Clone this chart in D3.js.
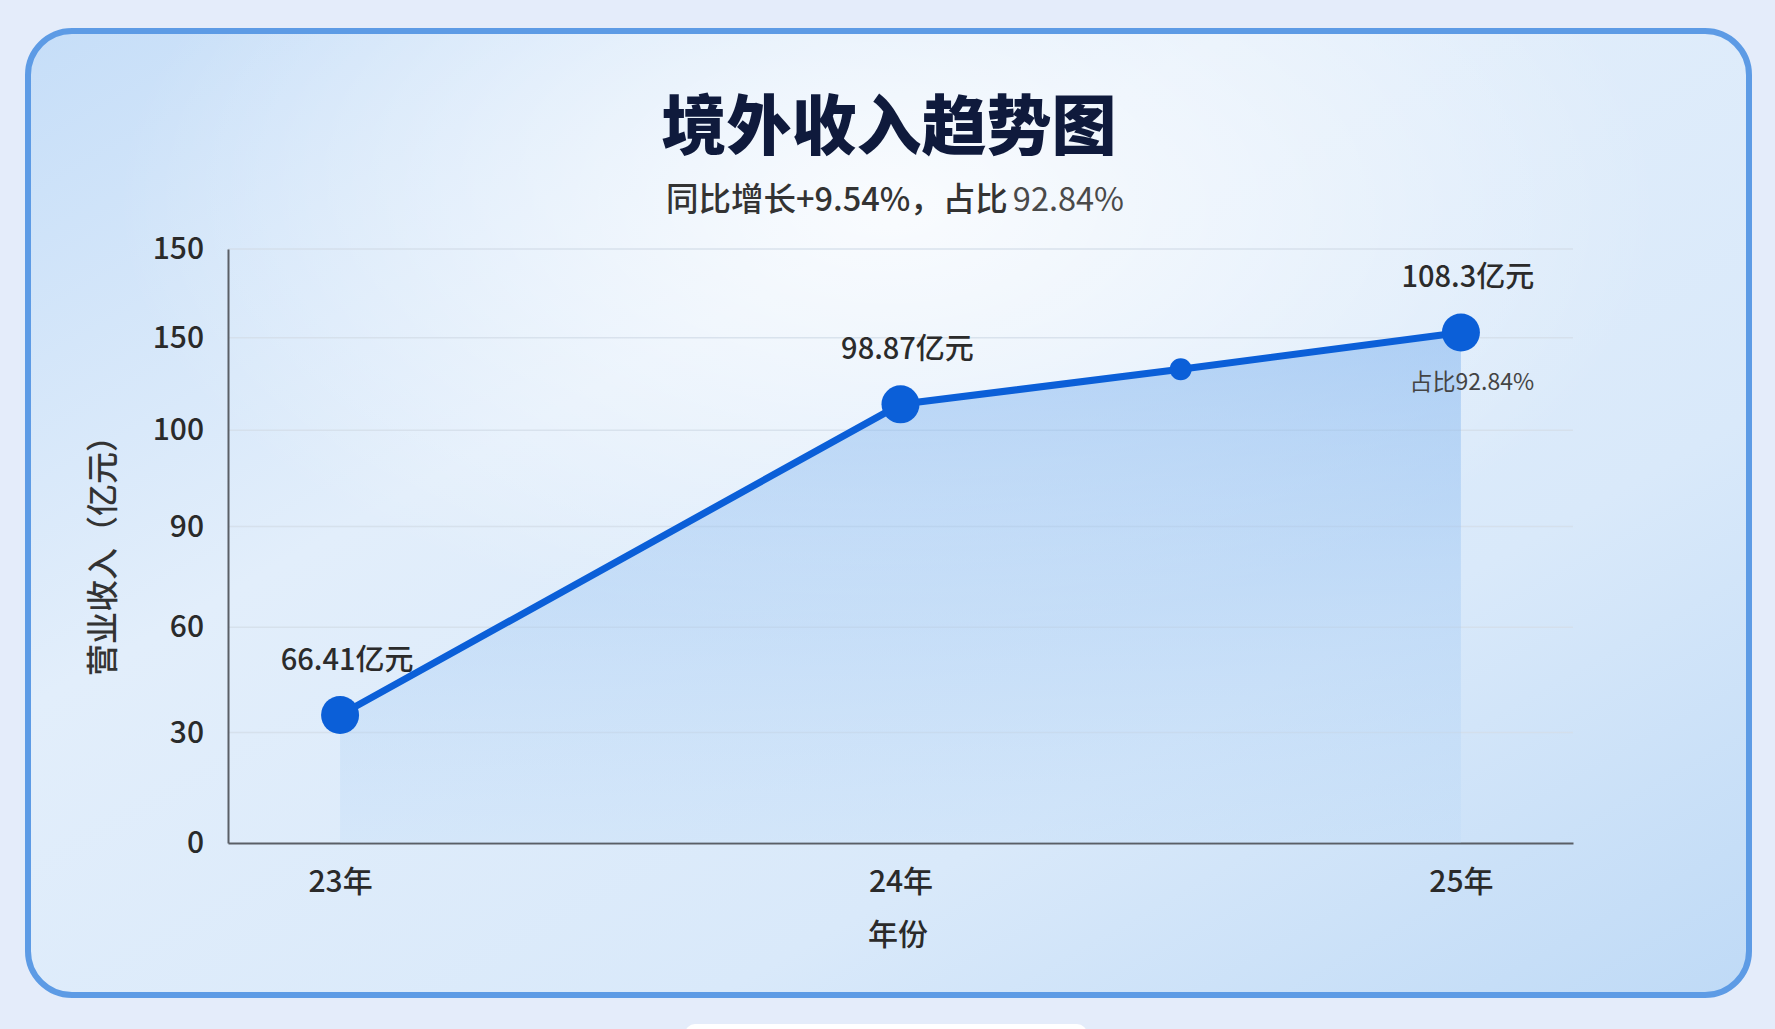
<!DOCTYPE html>
<html>
<head>
<meta charset="utf-8">
<script src="https://cdn.jsdelivr.net/npm/d3@7"></script>
<style>
  html, body { margin: 0; padding: 0; background: #e4ecfa; }
  svg { display: block; font-family: "Noto Sans CJK SC", "Noto Sans", sans-serif; }
</style>
</head>
<body>
<div id="chart"></div>
<script>
// data
const years = ["23年", "24年", "25年"];
const yearPos = [23, 24, 25];
const pointX = [23, 24, 24.5, 25];
const pointY = [35, 114, 133, 153];   // where the marks sit against the drawn axis
const pointLabels = ["66.41亿元", "98.87亿元", "", "108.3亿元"];
const yTickValues = [0, 30, 60, 90, 100, 150, 200];
const yTickLabels = ["0", "30", "60", "90", "100", "150", "150"];
const title = "境外收入趋势图";
const subMain = "同比增长+9.54%，占比";
const subShare = "92.84%";
const shareNote = "占比92.84%";

const W = 1775, H = 1029;
const svg = d3.select("#chart").append("svg").attr("width", W).attr("height", H);
const defs = svg.append("defs");

// card gradients
const cardGrad = defs.append("linearGradient").attr("id", "cardGrad")
  .attr("x1", "0").attr("y1", "0").attr("x2", "1").attr("y2", "1");
cardGrad.append("stop").attr("offset", "0%").attr("stop-color", "#c6def8");
cardGrad.append("stop").attr("offset", "35%").attr("stop-color", "#e2eefb");
cardGrad.append("stop").attr("offset", "70%").attr("stop-color", "#d9e9fa");
cardGrad.append("stop").attr("offset", "100%").attr("stop-color", "#bfdaf6");

const glow = defs.append("radialGradient").attr("id", "glow")
  .attr("cx", "0.5").attr("cy", "0.18").attr("r", "0.45");
glow.append("stop").attr("offset", "0%").attr("stop-color", "#ffffff").attr("stop-opacity", 0.8);
glow.append("stop").attr("offset", "100%").attr("stop-color", "#ffffff").attr("stop-opacity", 0);

const areaGrad = defs.append("linearGradient").attr("id", "areaGrad")
  .attr("x1", "0").attr("y1", "0").attr("x2", "0").attr("y2", "1");
areaGrad.append("stop").attr("offset", "0%").attr("stop-color", "#7ab0ee").attr("stop-opacity", 0.5);
areaGrad.append("stop").attr("offset", "100%").attr("stop-color", "#b9d8f7").attr("stop-opacity", 0.25);

// card
svg.append("rect").attr("x", 28).attr("y", 31).attr("width", 1721).attr("height", 964)
  .attr("rx", 44).attr("fill", "url(#cardGrad)");
svg.append("rect").attr("x", 28).attr("y", 31).attr("width", 1721).attr("height", 964)
  .attr("rx", 44).attr("fill", "url(#glow)");
svg.append("rect").attr("x", 28).attr("y", 31).attr("width", 1721).attr("height", 964)
  .attr("rx", 44).attr("fill", "none").attr("stroke", "#5d9be5").attr("stroke-width", 6);

// white tab peeking at the bottom
svg.append("rect").attr("x", 685).attr("y", 1024).attr("width", 402).attr("height", 20)
  .attr("rx", 10).attr("fill", "#ffffff");

// titles
svg.append("text").attr("x", 889).attr("y", 149).attr("text-anchor", "middle")
  .attr("font-size", 65).attr("font-weight", 900).attr("fill", "#0f1a3c").text(title);
const sub = svg.append("text").attr("x", 895).attr("y", 211).attr("text-anchor", "middle")
  .attr("font-size", 32.5).attr("fill", "#333");
sub.append("tspan").attr("font-weight", 500).text(subMain);
sub.append("tspan").attr("dx", 5).attr("font-weight", 400).attr("fill", "#4a4a4a").text(subShare);

// scales
const plotLeft = 228, plotRight = 1573, plotBottom = 843, plotTop = 249;
const x = d3.scaleLinear().domain([22.8, 25.2]).range([plotLeft, plotRight]);
// tick rows get closer toward the top, like the picture
const slotPix = d3.scaleLog().domain([20, 26]).range([plotBottom, plotTop]);
const y = d3.scaleLinear().domain(yTickValues).range(yTickValues.map((d, i) => slotPix(20 + i)));

// grid
svg.append("g").selectAll("line").data(yTickValues.slice(1)).join("line")
  .attr("x1", plotLeft).attr("x2", plotRight)
  .attr("y1", d => y(d)).attr("y2", d => y(d))
  .attr("stroke", "#d3dde9").attr("stroke-opacity", 0.8).attr("stroke-width", 1.5);

// axes
const yAxis = svg.append("g").attr("transform", `translate(${plotLeft},0)`)
  .call(d3.axisLeft(y).tickValues(yTickValues).tickFormat((d, i) => yTickLabels[i]).tickSize(0).tickPadding(24));
yAxis.select(".domain").attr("stroke", "#5a5f66").attr("stroke-width", 2);
yAxis.selectAll("text").attr("font-size", 30).attr("font-weight", 500).attr("fill", "#2a2a2a")
  .attr("font-family", "\"Noto Sans CJK SC\", sans-serif");

const xAxis = svg.append("g").attr("transform", `translate(0,${plotBottom})`)
  .call(d3.axisBottom(x).tickValues(yearPos).tickFormat((d, i) => years[i]).tickSize(0).tickPadding(28));
xAxis.select(".domain").attr("stroke", "#5a5f66").attr("stroke-width", 2);
xAxis.selectAll("text").attr("font-size", 30).attr("font-weight", 500).attr("fill", "#2a2a2a")
  .attr("font-family", "\"Noto Sans CJK SC\", sans-serif");

svg.append("text").attr("x", 898).attr("y", 945).attr("text-anchor", "middle")
  .attr("font-size", 30).attr("font-weight", 500).attr("fill", "#2a2a2a").text("年份");
svg.append("text").attr("transform", "translate(114,548) rotate(-90)").attr("text-anchor", "middle")
  .attr("font-size", 32).attr("font-weight", 500).attr("fill", "#333").text("营业收入（亿元）");

// area + line
const pts = pointX.map((d, i) => ({x: d, y: pointY[i], label: pointLabels[i]}));
svg.append("path").datum(pts)
  .attr("d", d3.area().x(d => x(d.x)).y0(plotBottom).y1(d => y(d.y)))
  .attr("fill", "url(#areaGrad)");
svg.append("path").datum(pts)
  .attr("d", d3.line().x(d => x(d.x)).y(d => y(d.y)))
  .attr("fill", "none").attr("stroke", "#0b5fd8").attr("stroke-width", 7).attr("stroke-linejoin", "round");
svg.append("g").selectAll("circle").data(pts).join("circle")
  .attr("cx", d => x(d.x)).attr("cy", d => y(d.y))
  .attr("r", d => d.label ? 19 : 11).attr("fill", "#0b5fd8");

svg.append("g").selectAll("text").data(pts.filter(d => d.label)).join("text")
  .attr("x", d => x(d.x) + 7).attr("y", d => y(d.y) - 45)
  .attr("text-anchor", "middle").attr("font-size", 29).attr("font-weight", 500)
  .attr("fill", "#2b2b2b").text(d => d.label);

const last = pts[pts.length - 1];
svg.append("text").attr("x", x(last.x) + 11).attr("y", y(last.y) + 58)
  .attr("text-anchor", "middle").attr("font-size", 23).attr("fill", "#444").text(shareNote);
</script>
</body>
</html>
